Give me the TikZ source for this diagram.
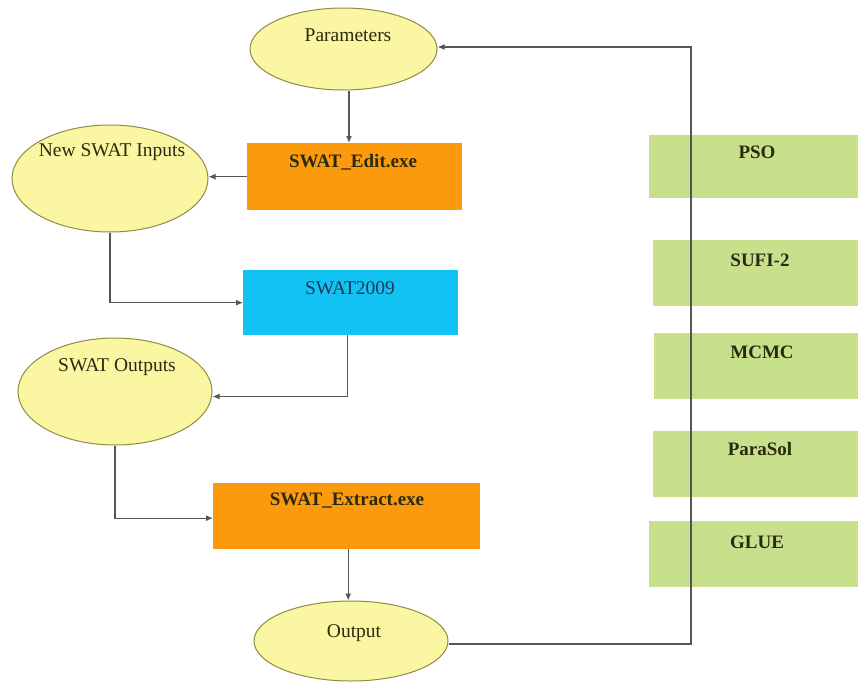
\documentclass[tikz,border=0pt]{standalone}
\usepackage{fontspec}
\setmainfont{Liberation Serif}
\usetikzlibrary{shapes.geometric,arrows.meta}
\definecolor{ellfill}{HTML}{FAF6A2}
\definecolor{elldraw}{HTML}{8E8C45}
\definecolor{orangebox}{HTML}{FB9A0C}
\definecolor{bluebox}{HTML}{12C2F2}
\definecolor{greenbox}{HTML}{C8E08C}
\definecolor{linegray}{HTML}{555555}
\definecolor{bluetext}{HTML}{1E3A5A}
\definecolor{darktext}{HTML}{2A2A10}
\begin{document}
\begin{tikzpicture}[x=1pt,y=-1pt,
 ell/.style={ellipse,draw=elldraw,line width=1pt,fill=ellfill,inner sep=0pt},
 rbox/.style={rectangle,inner sep=0pt,anchor=north west,draw=none},
 lbl/.style={font=\fontsize{19.5}{21}\selectfont, text=darktext, inner sep=0pt},
 blbl/.style={font=\fontsize{19}{21}\selectfont\bfseries, text=darktext, inner sep=0pt},
 arr/.style={draw=linegray,line width=1.2pt,-{Latex[length=7pt,width=6pt]}}]
\useasboundingbox[fill=white] (0,0) rectangle (858,688);

% green method boxes
\node[rbox,fill=greenbox,minimum width=209pt,minimum height=63pt] (pso) at (649,135) {};
\node[rbox,fill=greenbox,minimum width=205pt,minimum height=66pt] (sufi) at (653,240) {};
\node[rbox,fill=greenbox,minimum width=204pt,minimum height=66pt] (mcmc) at (654,333) {};
\node[rbox,fill=greenbox,minimum width=205pt,minimum height=66pt] (parasol) at (653,431) {};
\node[rbox,fill=greenbox,minimum width=209pt,minimum height=66pt] (glue) at (649,521) {};

% process boxes
\node[rbox,fill=orangebox,minimum width=215pt,minimum height=67pt] (edit) at (247,143) {};
\node[rbox,fill=bluebox,minimum width=215pt,minimum height=65pt] (swat) at (243,270) {};
\node[rbox,fill=orangebox,minimum width=267pt,minimum height=66pt] (extract) at (213,483) {};

% ellipses
\node[ell,minimum width=187pt,minimum height=82pt] (param) at (343.5,49) {};
\node[ell,minimum width=196pt,minimum height=107pt] (inputs) at (110,178.5) {};
\node[ell,minimum width=194pt,minimum height=107pt] (outputs) at (115,391.5) {};
\node[ell,minimum width=194pt,minimum height=80pt] (output) at (351,641) {};

% labels
\node[lbl] (tparam) at (348,35) {Parameters};
\node[lbl] (tinputs) at (112,152) {New SWAT Inputs};
\node[blbl] (tedit) at (353,162) {SWAT\_Edit.exe};
\node[lbl,text=bluetext] (tswat) at (350,288) {SWAT2009};
\node[lbl] (toutputs) at (117,367) {SWAT Outputs};
\node[blbl] (textract) at (347,501) {SWAT\_Extract.exe};
\node[lbl] (toutput) at (354,633) {Output};
\node[blbl] (tpso) at (757,152) {PSO};
\node[blbl] (tsufi) at (760,260) {SUFI-2};
\node[blbl] (tmcmc) at (762,352) {MCMC};
\node[blbl] (tparasol) at (760,449) {ParaSol};
\node[blbl] (tglue) at (757,542) {GLUE};

% connectors
\coordinate (loop) at (691,0);
\draw[arr] ([xshift=5.5pt]param.south) -- ([xshift=5.5pt]param.south |- edit.north);
\draw[arr] (edit.west) -- (edit.west -| inputs.east);
\draw[arr] (inputs.south) |- (swat.west);
\draw[arr] ([xshift=-3pt]swat.south) |- ([yshift=-5pt]outputs.east);
\draw[arr] (outputs.south) |- ([yshift=-2pt]extract.west);
\draw[arr] ([xshift=1.5pt]extract.south) -- ([xshift=1.5pt]extract.south |- output.north);
\draw[arr] ([yshift=-3pt]output.east) -- ([yshift=-3pt]output.east -| loop) |- ([yshift=2pt]param.east);
\end{tikzpicture}
\end{document}
